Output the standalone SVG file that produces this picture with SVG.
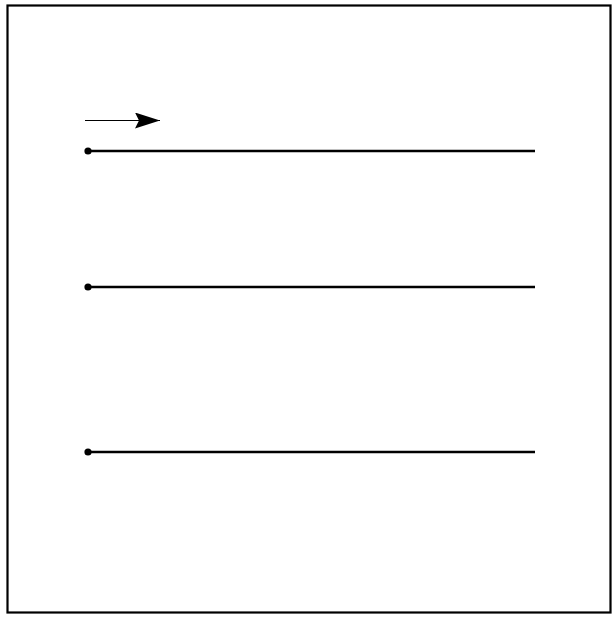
<svg xmlns="http://www.w3.org/2000/svg" width="615" height="619" viewBox="0 0 615 619">
<style>
.frame{fill:none;stroke:#000;stroke-width:2.2}
.wire{stroke:#000;stroke-width:2.5;fill:none}
.dot{fill:#000}
.arrow{stroke:#000;stroke-width:1.2;fill:none}
</style>
<defs>
<marker id="ah" viewBox="0 0 25 16" refX="25" refY="8" markerWidth="25" markerHeight="16" markerUnits="userSpaceOnUse" orient="auto">
<path d="M0,0 L25,8 L0,16 L4,8 Z" fill="#000"/>
</marker>
</defs>
<rect width="615" height="619" fill="#fff"/>
<rect class="frame" x="7.5" y="5.5" width="603" height="607"/>
<g id="connectors">
<line class="arrow" x1="85" y1="120.5" x2="160" y2="120.5" marker-end="url(#ah)"/>
</g>
<g id="line1">
<line class="wire" x1="88" y1="151" x2="535" y2="151"/>
<circle class="dot" cx="88" cy="151" r="3.6"/>
</g>
<g id="line2">
<line class="wire" x1="88" y1="287" x2="535" y2="287"/>
<circle class="dot" cx="88" cy="287" r="3.6"/>
</g>
<g id="line3">
<line class="wire" x1="88" y1="452" x2="535" y2="452"/>
<circle class="dot" cx="88" cy="452" r="3.6"/>
</g>
</svg>
